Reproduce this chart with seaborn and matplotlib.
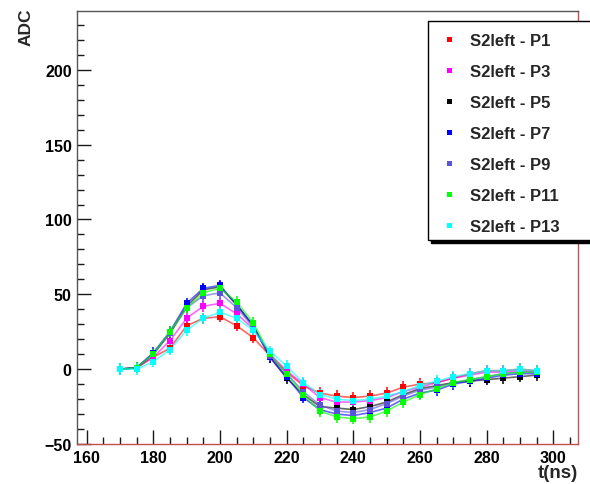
import matplotlib
matplotlib.use("Agg")
import matplotlib.pyplot as plt
from matplotlib.patches import Rectangle
from matplotlib.lines import Line2D
from matplotlib.ticker import MultipleLocator
import numpy as np
import pandas as pd
import seaborn as sns

# Sampling times (ns)
time_ns = [170, 175, 180, 185, 190, 195, 200, 205, 210, 215, 220, 225, 230,
           235, 240, 245, 250, 255, 260, 265, 270, 275, 280, 285, 290, 295]

# Mean pulse amplitude (ADC counts) per position
adc_p1 = [0, 1, 8, 14, 29, 34, 35, 29, 21, 9, -2, -11, -16,
          -18, -19, -18, -16, -12, -10, -9, -6, -3, -1, -1, 0, -1]
adc_p3 = [0, 1, 8, 19, 34, 42, 44, 37, 27, 10, -1, -10, -19,
          -22, -22, -21, -19, -15, -12, -9, -6, -4, -2, -2, -1, -2]
adc_p5 = [0, 1, 10, 24, 42, 53, 55, 43, 29, 8, -6, -17, -25,
          -26, -27, -25, -22, -17, -13, -11, -9, -8, -7, -6, -5, -4]
adc_p7 = [0, 1, 11, 25, 44, 54, 56, 43, 29, 8, -5, -19, -27,
          -30, -31, -29, -26, -20, -16, -14, -10, -8, -6, -4, -3, -3]
adc_p9 = [0, 1, 10, 24, 41, 49, 51, 41, 28, 9, -3, -15, -24,
          -28, -29, -27, -23, -18, -14, -12, -9, -7, -5, -3, -2, -2]
adc_p11 = [0, 1, 10, 25, 41, 51, 54, 45, 31, 10, -3, -17, -28,
           -32, -33, -32, -28, -22, -17, -13, -9, -7, -5, -3, -2, -2]
adc_p13 = [0, 0, 5, 13, 26, 34, 38, 34, 26, 12, 2, -9, -17,
           -20, -21, -20, -18, -15, -11, -8, -5, -3, -1, -1, 0, -1]
adc_err = 3.8

series_names = ["S2left - P1", "S2left - P3", "S2left - P5", "S2left - P7",
                "S2left - P9", "S2left - P11", "S2left - P13"]
series_values = [adc_p1, adc_p3, adc_p5, adc_p7, adc_p9, adc_p11, adc_p13]
series_colors = ["#ff0000", "#ff00ff", "#000000", "#0000ff",
                 "#5954d8", "#00ff00", "#00ffff"]

sns.set_style("white")
plt.rcParams["font.family"] = ["Liberation Sans", "DejaVu Sans"]
plt.rcParams["font.weight"] = "bold"
plt.rcParams["xtick.color"] = "#1a1a1a"
plt.rcParams["ytick.color"] = "#1a1a1a"

df = pd.concat(
    [pd.DataFrame({"t": time_ns, "adc": v, "series": n})
     for n, v in zip(series_names, series_values)],
    ignore_index=True,
)
palette = dict(zip(series_names, series_colors))

fig = plt.figure(figsize=(5.9, 4.85), dpi=100)
ax = fig.add_axes([77.3 / 590, 1 - 445 / 485, (578 - 77.3) / 590, (445 - 11.7) / 485])

sns.lineplot(data=df, x="t", y="adc", hue="series", palette=palette,
             ax=ax, legend=False, linewidth=1.2, alpha=0.6)

for name in series_names:
    sub = df[df["series"] == name]
    c = palette[name]
    ax.errorbar(sub["t"], sub["adc"], yerr=adc_err, fmt="s", ms=5.0,
                color=c, ecolor=c, elinewidth=1.1, capsize=2.6, capthick=1.1,
                mew=0)

ax.set_xlim(157.2, 307.4)
ax.set_ylim(-50, 239.5)
ax.xaxis.set_major_locator(MultipleLocator(20))
ax.xaxis.set_minor_locator(MultipleLocator(5))
ax.yaxis.set_major_locator(MultipleLocator(50))
ax.yaxis.set_minor_locator(MultipleLocator(10))
ax.tick_params(which="both", direction="in", top=False, right=False,
               bottom=True, left=True, color="#1a1a1a", width=1)
ax.tick_params(which="major", length=10, labelsize=11.5, pad=4,
               labelcolor="black")
ax.tick_params(which="minor", length=5)
for lab in ax.get_xticklabels() + ax.get_yticklabels():
    lab.set_fontweight("bold")
ax.set_xlabel("")
ax.set_ylabel("")

for side in ("left", "top"):
    ax.spines[side].set_color("#555555")
    ax.spines[side].set_linewidth(1)
for side in ("right", "bottom"):
    ax.spines[side].set_color("#c05050")
    ax.spines[side].set_linewidth(1)

fig.text(26 / 590, 1 - 9 / 485, "ADC", rotation=90, ha="center", va="top",
         fontsize=12.5, fontweight="bold")
fig.text(578 / 590, 1 - 482 / 485, "t(ns)", ha="right", va="bottom",
         fontsize=13.5, fontweight="bold")

# Legend box with drop shadow
lx0, lx1, ly0, ly1 = 428, 620, 22, 241
fig.add_artist(Rectangle(((lx0 + 3) / 590, 1 - (ly1 + 3) / 485),
                         (lx1 - lx0) / 590, (ly1 - ly0) / 485,
                         transform=fig.transFigure, facecolor="black",
                         edgecolor="black", zorder=0.5))
fig.add_artist(Rectangle((lx0 / 590, 1 - ly1 / 485),
                         (lx1 - lx0) / 590, (ly1 - ly0) / 485,
                         transform=fig.transFigure, facecolor="white",
                         edgecolor="black", linewidth=1, zorder=0.6))
row_y = [39.5, 70.6, 101.7, 132.8, 163.9, 195.0, 226.1]
for name, c, ry in zip(series_names, series_colors, row_y):
    fig.add_artist(Line2D([449 / 590], [1 - ry / 485], marker="s", ms=3.6,
                          mew=0, color=c, linestyle="none",
                          transform=fig.transFigure, zorder=2))
    fig.text(470.5 / 590, 1 - (ry + 6) / 485, name, ha="left", va="baseline",
             fontsize=12, fontweight="bold", zorder=3)

fig.savefig("out.png", dpi=100)
